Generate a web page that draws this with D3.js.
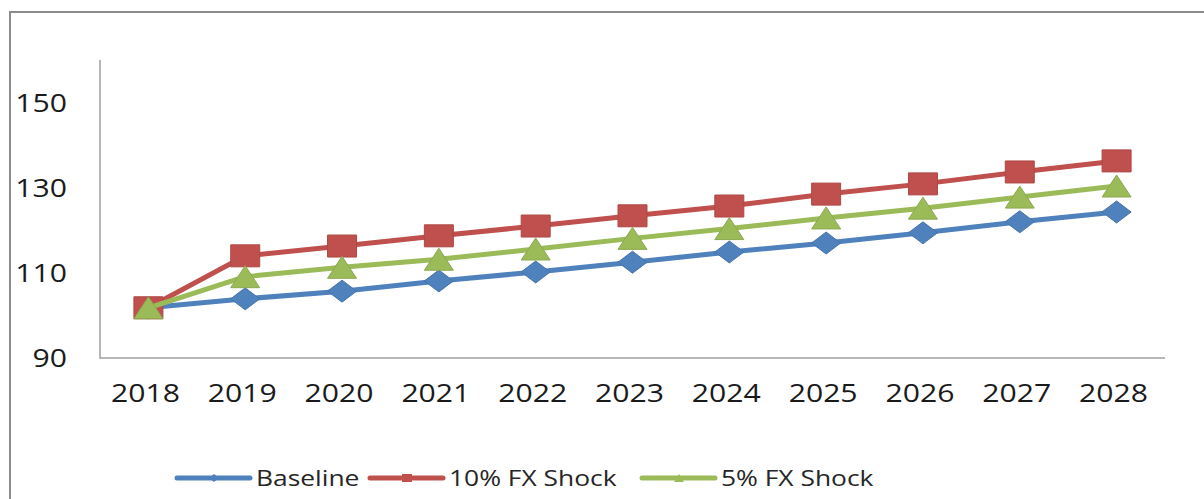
<!DOCTYPE html>
<html>
<head>
<meta charset="utf-8">
<script src="https://cdn.jsdelivr.net/npm/d3@7"></script>
<style>
	body { margin: 0; background: #fff; }
	text { font-family: "Open Sans", sans-serif; }
</style>
</head>
<body>
<div id="chart"></div>
<script>
// values
var years = ["2018", "2019", "2020", "2021", "2022", "2023", "2024", "2025", "2026", "2027", "2028"];
var baseline = [101.8, 103.9, 105.7, 108.1, 110.2, 112.5, 114.9, 117.0, 119.4, 122.0, 124.3];
var shock10 = [101.8, 114.0, 116.3, 118.7, 121.0, 123.4, 125.7, 128.5, 130.9, 133.7, 136.3];
var shock5 = [101.8, 109.1, 111.3, 113.2, 115.6, 118.1, 120.4, 122.9, 125.2, 127.8, 130.4];
var yTicks = [90, 110, 130, 150];

var seriesNames = ["Baseline", "10% FX Shock", "5% FX Shock"];
var seriesValues = [baseline, shock10, shock5];
var seriesColors = ["#4F81BD", "#C0504D", "#9BBB59"];
var seriesMarkers = ["diamond", "square", "triangle"];

var width = 1204,
	height = 499;

var svg = d3.select("#chart")
	.append("svg")
	.attr("width", width)
	.attr("height", height);

// outer chart frame (runs off the right and bottom edge)
svg.append("rect")
	.attr("x", 10)
	.attr("y", 12)
	.attr("width", 1220)
	.attr("height", 520)
	.attr("fill", "none")
	.attr("stroke", "#8c8c8c")
	.attr("stroke-width", 2);

var x = d3.scalePoint()
	.domain(years)
	.range([100, 1165])
	.padding(0.5);

var y = d3.scaleLinear()
	.domain([90, 160])
	.range([358, 60]);

// plot area: left and bottom lines only
svg.append("path")
	.attr("d", "M100," + y(160) + "V" + y(90) + "H1165")
	.attr("fill", "none")
	.attr("stroke", "#a0a0a0")
	.attr("stroke-width", 1.5);

// stretched text, the original picture is wider than it was drawn
function stretchedText(g, px, py, anchor, size, sx, str, color) {
	return g.append("text")
		.attr("transform", "translate(" + px + "," + py + ") scale(" + sx + ",1)")
		.attr("text-anchor", anchor)
		.style("font-size", size + "px")
		.attr("fill", color)
		.text(str);
}

var yAxis = svg.append("g");
yTicks.forEach(function (t) {
	stretchedText(yAxis, 67, y(t) + 9, "end", 26, 1.16, t, "#1a1a1a");
});

var xAxis = svg.append("g");
years.forEach(function (yr) {
	stretchedText(xAxis, x(yr) - 3, 402, "middle", 26, 1.16, yr, "#1a1a1a");
});

function markerPath(type, w, h) {
	var a = w / 2, b = h / 2;
	if (type === "diamond") return "M0," + (-b) + "L" + a + ",0L0," + b + "L" + (-a) + ",0Z";
	if (type === "square") return "M" + (-a) + "," + (-b) + "H" + a + "V" + b + "H" + (-a) + "Z";
	return "M0," + (-b) + "L" + a + "," + b + "H" + (-a) + "Z";
}

var line = d3.line()
	.x(function (d, i) { return x(years[i]); })
	.y(function (d) { return y(d); });

seriesValues.forEach(function (vals, s) {
	var g = svg.append("g");
	g.append("path")
		.datum(vals)
		.attr("fill", "none")
		.attr("stroke", seriesColors[s])
		.attr("stroke-width", 5)
		.attr("stroke-linejoin", "round")
		.attr("d", line);

	g.selectAll("path.mk")
		.data(vals)
		.enter()
		.append("path")
		.attr("class", "mk")
		.attr("transform", function (d, i) {
			return "translate(" + x(years[i]) + "," + y(d) + ")";
		})
		.attr("d", markerPath(seriesMarkers[s], 29, 22))
		.attr("fill", seriesColors[s])
		.attr("stroke", d3.color(seriesColors[s]).darker(0.3))
		.attr("stroke-width", 1);
});

// legend
var legend = svg.append("g");
var legendX = [177, 370, 642];
seriesNames.forEach(function (name, s) {
	var lx = legendX[s];
	legend.append("line")
		.attr("x1", lx)
		.attr("x2", lx + 73)
		.attr("y1", 478)
		.attr("y2", 478)
		.attr("stroke", seriesColors[s])
		.attr("stroke-width", 5)
		.attr("stroke-linecap", "round");
	legend.append("path")
		.attr("transform", "translate(" + (lx + 37) + ",478)")
		.attr("d", markerPath(seriesMarkers[s], 10, 8))
		.attr("fill", seriesColors[s]);
	stretchedText(legend, lx + 79, 486, "start", 22, 1.2, name, "#262626");
});
</script>
</body>
</html>
